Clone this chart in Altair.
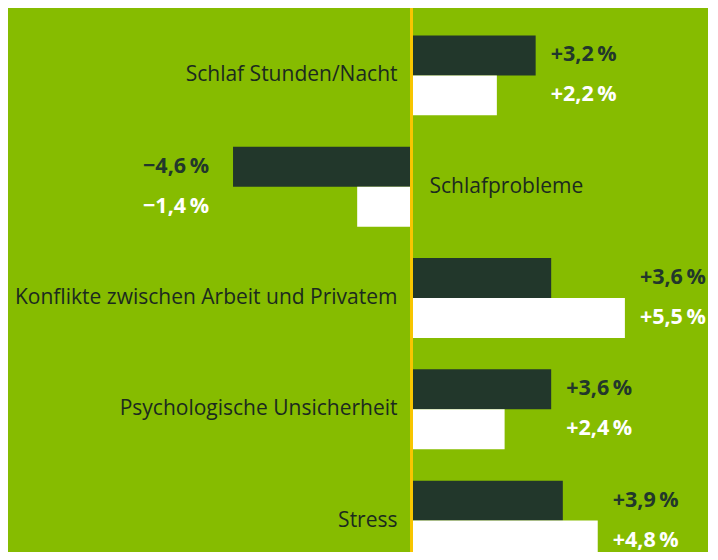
import altair as alt
import pandas as pd

categories = [
    "Schlaf Stunden/Nacht",
    "Schlafprobleme",
    "Konflikte zwischen Arbeit und Privatem",
    "Psychologische Unsicherheit",
    "Stress",
]
series_names = ["A", "B"]
values_a = [3.2, -4.6, 3.6, 3.6, 3.9]   # dark bars
values_b = [2.2, -1.4, 5.5, 2.4, 4.8]   # white bars

GREEN = "#86bc00"
DARK = "#22372b"
WHITE = "#ffffff"
YELLOW = "#f7c600"
FONT = "Open Sans"


def fmt(v):
    s = f"{abs(v):.1f}".replace(".", ",")
    return ("+" if v >= 0 else "\u2212") + s + "\u2009%"


rows = []
for c, a, b in zip(categories, values_a, values_b):
    ext = max(a, b) if a >= 0 else min(a, b)
    for s, v in (("A", a), ("B", b)):
        rows.append({"cat": c, "series": s, "value": v, "label": fmt(v),
                     "ext": ext, "pos": v >= 0})
df = pd.DataFrame(rows)

cat_rows = [{"cat": c, "pos": a >= 0} for c, a in zip(categories, values_a)]
cdf = pd.DataFrame(cat_rows)

W, H = 700, 544
x_scale = alt.Scale(domain=[-10.40, 7.642], nice=False, zero=False)
y_scale = alt.Scale(domain=categories, range=[0, 580.0],
                    paddingInner=0.2825, paddingOuter=0.2467)
yoff_scale = alt.Scale(domain=series_names, paddingInner=0, paddingOuter=0)
col_scale = alt.Scale(domain=series_names, range=[DARK, WHITE])

base = alt.Chart(df)

bars = base.mark_bar(clip=True).encode(
    x=alt.X("value:Q", scale=x_scale, axis=None),
    y=alt.Y("cat:N", scale=y_scale, axis=None),
    yOffset=alt.YOffset("series:N", scale=yoff_scale),
    color=alt.Color("series:N", scale=col_scale, legend=None),
)

rule = alt.Chart(pd.DataFrame({"z": [0]})).mark_rule(
    color=YELLOW, strokeWidth=3
).encode(x=alt.X("z:Q", scale=x_scale, axis=None))

val_pos = base.transform_filter("datum.pos").mark_text(
    align="left", baseline="middle", dx=15, font=FONT, fontWeight="bold",
    fontSize=21.5
).encode(
    x=alt.X("ext:Q", scale=x_scale, axis=None),
    y=alt.Y("cat:N", scale=y_scale, axis=None),
    yOffset=alt.YOffset("series:N", scale=yoff_scale),
    text="label:N",
    color=alt.Color("series:N", scale=col_scale, legend=None),
)

val_neg = base.transform_filter("!datum.pos").mark_text(
    align="right", baseline="middle", dx=-24, font=FONT, fontWeight="bold",
    fontSize=21.5
).encode(
    x=alt.X("ext:Q", scale=x_scale, axis=None),
    y=alt.Y("cat:N", scale=y_scale, axis=None),
    yOffset=alt.YOffset("series:N", scale=yoff_scale),
    text="label:N",
    color=alt.Color("series:N", scale=col_scale, legend=None),
)

cbase = alt.Chart(cdf)
cat_pos = cbase.transform_filter("datum.pos").mark_text(
    align="right", baseline="middle", dx=-14, font=FONT, fontSize=21,
    color="#1b2a1f"
).encode(
    x=alt.datum(0, scale=x_scale),
    y=alt.Y("cat:N", scale=y_scale, axis=None),
    text="cat:N",
)
cat_neg = cbase.transform_filter("!datum.pos").mark_text(
    align="left", baseline="middle", dx=18, font=FONT, fontSize=21,
    color="#1b2a1f"
).encode(
    x=alt.datum(0, scale=x_scale),
    y=alt.Y("cat:N", scale=y_scale, axis=None),
    text="cat:N",
)

chart = alt.layer(bars, rule, val_pos, val_neg, cat_pos, cat_neg).properties(
    width=W, height=H, background=GREEN, padding=0,
    autosize=alt.AutoSizeParams(type="none"),
).configure_view(stroke=None)

chart.save("out.html", embed_options={"renderer": "svg", "actions": False})
